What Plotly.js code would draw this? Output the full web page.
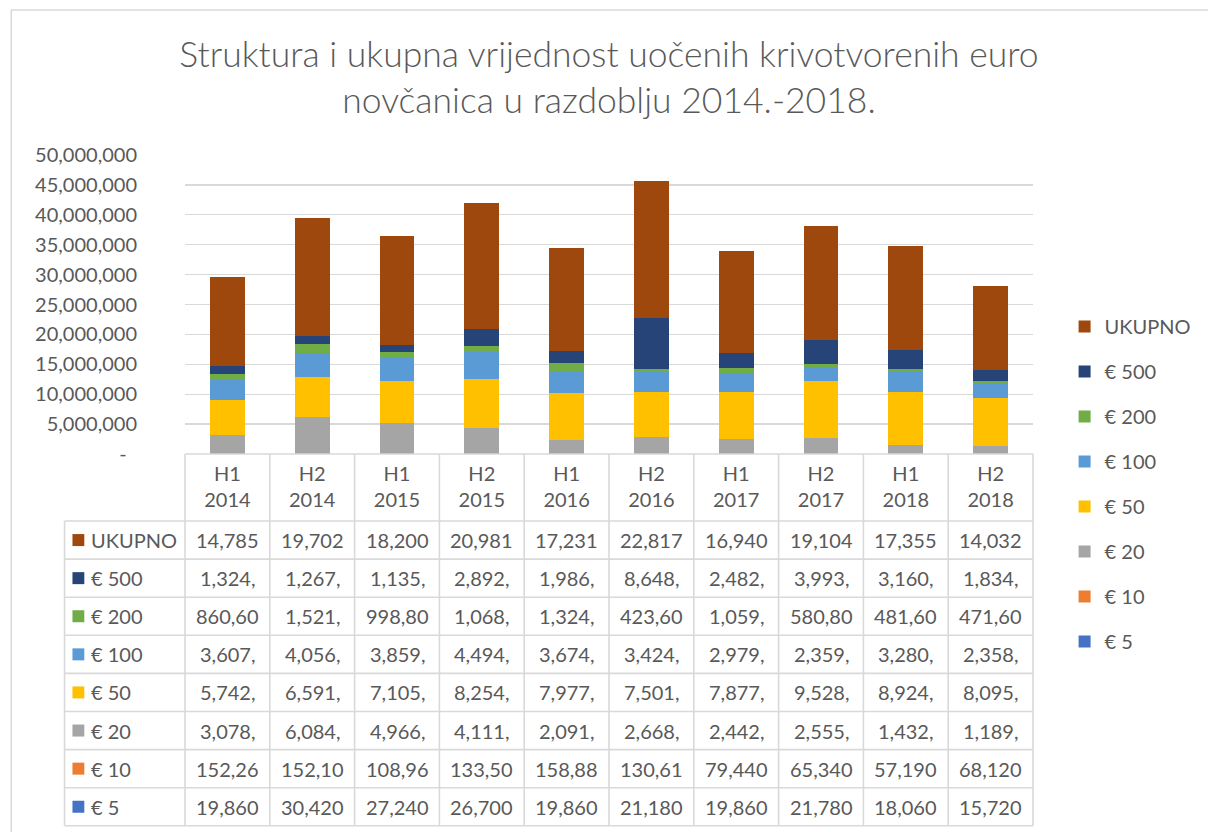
<!DOCTYPE html>
<html><head><meta charset="utf-8">
<script src="https://cdn.plot.ly/plotly-3.0.1.min.js"></script>
<style>html,body{margin:0;padding:0;background:#fff}</style>
</head><body><div id="chart" style="width:1208px;height:832px"></div>
<script>
// ---------------- data ----------------
const categories = ['H1 2014','H2 2014','H1 2015','H2 2015','H1 2016','H2 2016','H1 2017','H2 2017','H1 2018','H2 2018'];
const eur5   = [19860, 30420, 27240, 26700, 19860, 21180, 19860, 21780, 18060, 15720];
const eur10  = [152260, 152100, 108960, 133500, 158880, 130610, 79440, 65340, 57190, 68120];
const eur20  = [3078000, 6084000, 4966000, 4111000, 2091000, 2668000, 2442000, 2555000, 1432000, 1189000];
const eur50  = [5742000, 6591000, 7105000, 8254000, 7977000, 7501000, 7877000, 9528000, 8924000, 8095000];
const eur100 = [3607000, 4056000, 3859000, 4494000, 3674000, 3424000, 2979000, 2359000, 3280000, 2358000];
const eur200 = [860600, 1521000, 998800, 1068000, 1324000, 423600, 1059000, 580800, 481600, 471600];
const eur500 = [1324000, 1267000, 1135000, 2892000, 1986000, 8648000, 2482000, 3993000, 3160000, 1834000];
const ukupno = [14785000, 19702000, 18200000, 20981000, 17231000, 22817000, 16940000, 19104000, 17355000, 14032000];
const yTicks = [0, 5000000, 10000000, 15000000, 20000000, 25000000, 30000000, 35000000, 40000000, 45000000, 50000000];

// series listed bottom-to-top of the stack
const series = [
  {name: '€ 5',    values: eur5,   color: '#4472C4'},
  {name: '€ 10',   values: eur10,  color: '#ED7D31'},
  {name: '€ 20',   values: eur20,  color: '#A5A5A5'},
  {name: '€ 50',   values: eur50,  color: '#FFC000'},
  {name: '€ 100',  values: eur100, color: '#5B9BD5'},
  {name: '€ 200',  values: eur200, color: '#70AD47'},
  {name: '€ 500',  values: eur500, color: '#264478'},
  {name: 'UKUPNO', values: ukupno, color: '#9E480E'}
];

// ---------------- layout geometry ----------------
const W = 1208, H = 832;
const L = 185, R = 1044, T = 155, B = 454;
const PW = R - L, PH = B - T;
const px = p => (p - L) / PW;
const py = p => (B - p) / PH;
const FONT = 'Lato, "Open Sans", sans-serif';
const TXT = '#595959';
const GRID = '#d9d9d9';

const traces = series.map((s, i) => ({
  type: 'bar',
  name: s.name,
  x: categories,
  y: s.values,
  legendgroup: 'g' + i,
  legendrank: series.length - i,
  marker: {color: s.color, line: {width: 0}},
  hoverinfo: 'skip'
}));

// ---------------- data table ----------------
const shapes = [];
const annotations = [];
const rowTop0 = 521, rowH = 38.1;
const tableRows = series.slice().reverse(); // UKUPNO first
const nCols = categories.length;
const colW = PW / nCols;
const lineStyle = {color: GRID, width: 1.6};

// horizontal lines
shapes.push({type: 'line', xref: 'paper', yref: 'paper', x0: px(L), x1: px(R), y0: py(B), y1: py(B), line: lineStyle});
for (let r = 0; r <= tableRows.length; r++) {
  const yy = rowTop0 + r * rowH;
  shapes.push({type: 'line', xref: 'paper', yref: 'paper', x0: px(63), x1: px(R), y0: py(yy), y1: py(yy), line: lineStyle});
}
// vertical lines
for (let c = 0; c <= nCols; c++) {
  const xx = L + c * colW;
  shapes.push({type: 'line', xref: 'paper', yref: 'paper', x0: px(xx), x1: px(xx), y0: py(B), y1: py(rowTop0 + tableRows.length * rowH), line: lineStyle});
}
shapes.push({type: 'line', xref: 'paper', yref: 'paper', x0: px(63), x1: px(63), y0: py(rowTop0), y1: py(rowTop0 + tableRows.length * rowH), line: lineStyle});

const cellText = v => v.toLocaleString('en-US').slice(0, 6);

tableRows.forEach((s, r) => {
  const cy = rowTop0 + r * rowH + rowH / 2;
  shapes.push({type: 'rect', xref: 'paper', yref: 'paper', x0: px(71), x1: px(83), y0: py(cy + 6), y1: py(cy - 6), fillcolor: s.color, line: {width: 0}});
  annotations.push({xref: 'paper', yref: 'paper', x: px(88), y: py(cy), xanchor: 'left', yanchor: 'middle', showarrow: false, text: s.name, font: {family: FONT, size: 20, color: TXT}});
  s.values.forEach((v, c) => {
    annotations.push({xref: 'x', yref: 'paper', x: categories[c], y: py(cy), xanchor: 'center', yanchor: 'middle', showarrow: false, text: cellText(v), font: {family: FONT, size: 20, color: TXT}});
  });
});

// outer chart border
shapes.push({type: 'rect', xref: 'paper', yref: 'paper', x0: px(9), x1: px(1230), y0: py(10), y1: py(860), line: {color: GRID, width: 1.5}, fillcolor: 'rgba(0,0,0,0)'});

const layout = {
  width: W, height: H,
  margin: {l: L, r: W - R, t: T, b: H - B, pad: 0},
  paper_bgcolor: '#fff', plot_bgcolor: '#fff',
  barmode: 'stack',
  bargap: 0.59,
  font: {family: FONT, color: TXT, size: 20},
  title: {
    text: 'Struktura i ukupna vrijednost uočenih krivotvorenih euro<br>novčanica u razdoblju 2014.-2018.',
    font: {family: FONT, size: 35.5, color: TXT, weight: 300},
    x: 0.5, xref: 'paper', y: 1 - 67 / H, yref: 'container', yanchor: 'top'
  },
  xaxis: {
    type: 'category',
    tickvals: categories,
    ticktext: categories.map(c => c.replace(' ', '<br>')),
    tickfont: {family: FONT, size: 20, color: TXT},
    showgrid: false, showline: false, zeroline: false, ticks: '',
    ticklabelstandoff: 6,
    fixedrange: true
  },
  yaxis: {
    range: [0, 50000000],
    tickvals: yTicks,
    ticktext: yTicks.map(v => v === 0 ? '-\u00a0\u00a0' : v.toLocaleString('en-US')),
    tickfont: {family: FONT, size: 20, color: TXT},
    showgrid: true, gridcolor: GRID, gridwidth: 1.3,
    zeroline: false, showline: false, ticks: '',
    ticklabelstandoff: 47,
    fixedrange: true
  },
  legend: {
    x: px(1076), y: py(307), xanchor: 'left', yanchor: 'top',
    traceorder: 'grouped',
    tracegroupgap: 16,
    maxheight: 600,
    font: {family: FONT, size: 20, color: TXT},
    bgcolor: 'rgba(0,0,0,0)'
  },
  shapes: shapes,
  annotations: annotations,
  showlegend: true
};

Plotly.newPlot('chart', traces, layout, {displayModeBar: false, staticPlot: true});
</script>
</body></html>
